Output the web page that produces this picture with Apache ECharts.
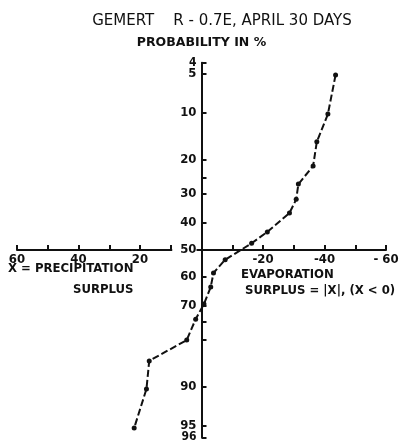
<!DOCTYPE html>
<html><head><meta charset="utf-8">
<script src="https://cdn.jsdelivr.net/npm/echarts@6/dist/echarts.min.js"></script>
<style>html,body{margin:0;padding:0;background:#fff}#c{width:399px;height:445px}</style>
</head><body><div id="c"></div>
<script>
// Data: surplus X (mm) vs cumulative probability (%)
const surplus = [-43.6, -41.1, -37.5, -36.3, -31.5, -30.8, -28.6, -21.4, -16.3, -7.7, -3.9, -3.0, -0.8, 1.9, 4.8, 17.0, 17.9, 21.9];
const probability = [5.1, 10.2, 15.6, 21.6, 26.9, 31.8, 36.5, 43.3, 47.5, 53.6, 58.5, 63.5, 69.3, 74.1, 80.0, 85.0, 90.3, 95.2];
// Probability axis ticks and labels
const probTicks = [4, 5, 10, 20, 25, 30, 40, 50, 60, 70, 75, 80, 90, 95, 96];
const probLabels = [4, 5, 10, 20, 30, 40, 50, 60, 70, 90, 95, 96];
// X axis labels
const xLabelValues = [60, 40, 20, -20, -40, -60];
const xLabelTexts = ['60', '40', '20', '-20', '-40', '- 60'];

function probit(pp) {
  const p = pp / 100;
  const a = [-3.969683028665376e+01, 2.209460984245205e+02, -2.759285104469687e+02, 1.383577518672690e+02, -3.066479806614716e+01, 2.506628277459239e+00];
  const b = [-5.447609879822406e+01, 1.615858368580409e+02, -1.556989798598866e+02, 6.680131188771972e+01, -1.328068155288572e+01];
  const c = [-7.784894002430293e-03, -3.223964580411365e-01, -2.400758277161838e+00, -2.549732539343734e+00, 4.374664141464968e+00, 2.938163982698783e+00];
  const d = [7.784695709041462e-03, 3.224671290700398e-01, 2.445134137142996e+00, 3.754408661907416e+00];
  const pl = 0.02425, ph = 1 - pl;
  let q, r;
  if (p < pl) {
    q = Math.sqrt(-2 * Math.log(p));
    return (((((c[0]*q+c[1])*q+c[2])*q+c[3])*q+c[4])*q+c[5]) / ((((d[0]*q+d[1])*q+d[2])*q+d[3])*q+1);
  } else if (p <= ph) {
    q = p - 0.5; r = q * q;
    return (((((a[0]*r+a[1])*r+a[2])*r+a[3])*r+a[4])*r+a[5])*q / (((((b[0]*r+b[1])*r+b[2])*r+b[3])*r+b[4])*r+1);
  } else {
    q = Math.sqrt(-2 * Math.log(1 - p));
    return -(((((c[0]*q+c[1])*q+c[2])*q+c[3])*q+c[4])*q+c[5]) / ((((d[0]*q+d[1])*q+d[2])*q+d[3])*q+1);
  }
}

function nearestProb(z) {
  let best = probLabels[0], bd = Infinity;
  probLabels.forEach(p => { const dd = Math.abs(probit(p) - z); if (dd < bd) { bd = dd; best = p; } });
  return best;
}

// Order the label values so the two end labels are not paired with their close neighbours
// (keeps ECharts' min/max overlap check from dropping 5 and 95).
const n = probLabels.length;
const labelOrder = [probLabels[0], probLabels[3], probLabels[1]]
  .concat(probLabels.slice(2, 3), probLabels.slice(4, n - 3), [probLabels[n - 2], probLabels[n - 1], probLabels[n - 3]]);

const COND = '"DejaVu Sans Condensed", "DejaVu Sans", sans-serif';
const REG = '"DejaVu Sans", sans-serif';
const INK = '#111';
const chart = echarts.init(document.getElementById('c'), null, {renderer: 'canvas'});
const seriesData = surplus.map((x, i) => [x, probit(probability[i])]);

const GL = 17, GR = 13, GT = 62.7, GB = 7.7, W = 399, H = 445;
const zMin = probit(4), zMax = probit(96);
// place the axes where the other axis is zero
const yZeroPix = GT + (0 - zMin) / (zMax - zMin) * (H - GT - GB);
const xZeroPix = GL + (W - GL - GR) / 2;

chart.setOption({
  animation: false,
  backgroundColor: '#fff',
  title: {
    text: 'GEMERT    R - 0.7E, APRIL 30 DAYS',
    left: 217, top: 9, textAlign: 'center',
    textStyle: {fontFamily: REG, fontWeight: 'normal', fontSize: 15, color: INK}
  },
  grid: {left: GL, right: GR, top: GT, bottom: GB, containLabel: false, outerBoundsMode: 'none'},
  xAxis: {
    type: 'value', inverse: true, min: -60, max: 60, interval: 10,
    position: 'bottom', offset: -(H - GB - yZeroPix),
    splitLine: {show: false},
    axisLine: {onZero: false, lineStyle: {color: INK, width: 2}},
    axisTick: {inside: true, length: 5, lineStyle: {color: INK, width: 2}},
    axisLabel: {
      customValues: xLabelValues, showMinLabel: true, showMaxLabel: true, hideOverlap: false,
      formatter: v => xLabelTexts[xLabelValues.indexOf(v)] || '',
      margin: 3, fontFamily: COND, fontWeight: 'bold', fontSize: 13, color: INK
    }
  },
  yAxis: {
    type: 'value', inverse: true, min: zMin, max: zMax, z: 5,
    position: 'left', offset: -(xZeroPix - GL),
    name: 'PROBABILITY IN %', nameLocation: 'start', nameGap: 13,
    nameTextStyle: {fontFamily: REG, fontWeight: 'bold', fontSize: 12.5, color: INK, align: 'center'},
    splitLine: {show: false},
    axisLine: {onZero: false, lineStyle: {color: INK, width: 2}},
    axisTick: {inside: true, length: 5, customValues: probTicks.map(probit), lineStyle: {color: INK, width: 2}},
    axisLabel: {
      customValues: labelOrder.map(probit), showMinLabel: true, showMaxLabel: true, hideOverlap: false,
      formatter: v => {
        const p = nearestProb(v);
        if (p === 50) return '{w|50}';
        if (p === 4 || p === 96) return '{s|' + p + '}';
        return String(p);
      },
      rich: {
        w: {backgroundColor: '#fff', padding: [3, 0, 3, 8], fontFamily: COND, fontWeight: 'bold', fontSize: 13, color: INK},
        s: {fontFamily: COND, fontWeight: 'bold', fontSize: 12, color: INK}
      },
      margin: 5, fontFamily: COND, fontWeight: 'bold', fontSize: 13, color: INK
    }
  },
  graphic: [
    {type: 'text', x: 8, y: 269, style: {text: 'X = PRECIPITATION', font: 'bold 13px ' + COND, fill: INK, verticalAlign: 'middle'}},
    {type: 'text', x: 73, y: 290, style: {text: 'SURPLUS', font: 'bold 13px ' + COND, fill: INK, verticalAlign: 'middle'}},
    {type: 'text', x: 241, y: 275, style: {text: 'EVAPORATION', font: 'bold 13px ' + COND, fill: INK, verticalAlign: 'middle'}},
    {type: 'text', x: 245, y: 291, style: {text: 'SURPLUS = |X|, (X < 0)', font: 'bold 13px ' + COND, fill: INK, verticalAlign: 'middle'}}
  ],
  series: [{
    type: 'line', data: seriesData,
    symbol: 'circle', symbolSize: 5,
    itemStyle: {color: INK},
    lineStyle: {color: INK, width: 2, type: [7, 3]}
  }]
});
</script></body></html>
